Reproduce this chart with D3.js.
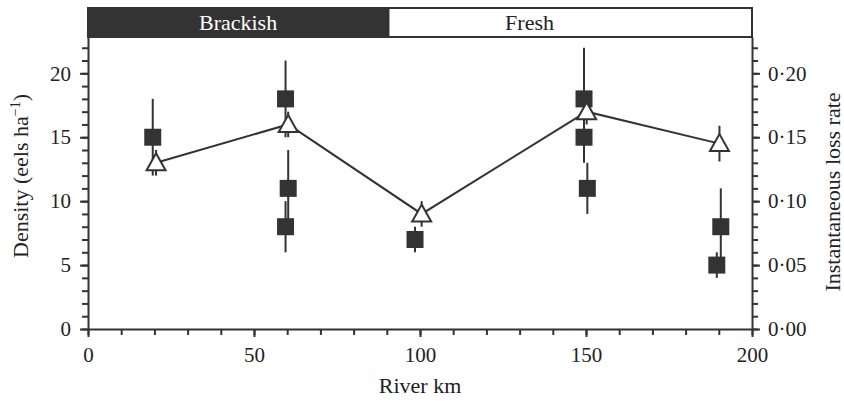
<!DOCTYPE html>
<html>
<head>
<meta charset="utf-8">
<script src="https://cdn.jsdelivr.net/npm/d3@7"></script>
<style>
  body { margin: 0; background: #fff; }
  svg { display: block; font-family: "Liberation Serif", "Times New Roman", serif; }
  .axis path, .axis line { stroke: #333; stroke-width: 2; }
  .axis text { font-size: 21px; fill: #222; font-family: "Liberation Serif", serif; }
</style>
</head>
<body>
<svg width="844" height="401"></svg>
<script>
// Density (squares) - river km, value and error bar ends
var densityKm = [19.5, 59.5, 60.3, 59.5, 98.5, 149.4, 149.4, 150.4, 190.6, 189.4],
  density = [15, 18, 11, 8, 7, 18, 15, 11, 8, 5],
  densityLo = [12, 15, 8, 6, 6, 14, 13, 9, 5, 4],
  densityHi = [18, 21, 14, 10, 8, 22, 17, 13, 11, 6];

// Instantaneous loss rate (triangles)
var lossKm = [20.5, 60.3, 100.5, 150.2, 190.2],
  loss = [0.13, 0.16, 0.09, 0.17, 0.145],
  lossLo = [0.12, 0.15, 0.08, 0.16, 0.131],
  lossHi = [0.14, 0.17, 0.10, 0.18, 0.159];

// Salinity zones along the river
var zoneNames = ["Brackish", "Fresh"],
  zoneStart = [0, 90.5],
  zoneEnd = [90.5, 200],
  zoneLabelKm = [45.2, 133];

var xMajor = [0, 50, 100, 150, 200],
  yMajor = [0, 5, 10, 15, 20],
  yRMajor = [0, 0.05, 0.10, 0.15, 0.20];

var dark = "#333";

var svg = d3.select("svg"),
  plotL = 88, plotR = 752, plotT = 37, plotB = 329;

var x = d3.scaleLinear().domain([0, 200]).range([plotL, plotR]);
var y = d3.scaleLinear().domain([0, 22.84]).range([plotB, plotT]);
var yR = d3.scaleLinear().domain([0, 0.2284]).range([plotB, plotT]);

var dotFmt = function(d) { return d3.format(".2f")(d).replace(".", "\u00b7"); };

// minor ticks
svg.append("g").attr("class", "axis")
  .attr("transform", "translate(0," + plotB + ")")
  .call(d3.axisBottom(x).tickValues(d3.range(0, 201, 10)).tickSize(6).tickFormat(""))
  .select(".domain").remove();
svg.append("g").attr("class", "axis")
  .attr("transform", "translate(" + plotL + ",0)")
  .call(d3.axisLeft(y).tickValues(d3.range(0, 23, 1)).tickSize(6).tickFormat(""))
  .select(".domain").remove();
svg.append("g").attr("class", "axis")
  .attr("transform", "translate(" + plotR + ",0)")
  .call(d3.axisRight(yR).tickValues(d3.range(0, 23, 1).map(function(d) { return d / 100; })).tickSize(6).tickFormat(""))
  .select(".domain").remove();

// major ticks with labels
svg.append("g").attr("class", "axis")
  .attr("transform", "translate(0," + plotB + ")")
  .call(d3.axisBottom(x).tickValues(xMajor).tickSize(8).tickPadding(10).tickSizeOuter(0));
svg.append("g").attr("class", "axis")
  .attr("transform", "translate(" + plotL + ",0)")
  .call(d3.axisLeft(y).tickValues(yMajor).tickSize(8).tickPadding(9).tickSizeOuter(0));
svg.append("g").attr("class", "axis")
  .attr("transform", "translate(" + plotR + ",0)")
  .call(d3.axisRight(yR).tickValues(yRMajor).tickSize(8).tickPadding(8).tickSizeOuter(0).tickFormat(dotFmt));

// axis titles
svg.append("text")
  .attr("x", (plotL + plotR) / 2)
  .attr("y", 393)
  .attr("text-anchor", "middle")
  .style("font-size", "22px").style("fill", "#222")
  .text("River km");

var yt = svg.append("text")
  .attr("transform", "translate(28,176) rotate(-90)")
  .attr("text-anchor", "middle")
  .style("font-size", "22px").style("fill", "#222");
yt.append("tspan").text("Density (eels ha");
yt.append("tspan").attr("dy", -8).style("font-size", "14px").text("\u22121");
yt.append("tspan").attr("dy", 8).text(")");

svg.append("text")
  .attr("transform", "translate(840,192) rotate(-90)")
  .attr("text-anchor", "middle")
  .style("font-size", "22px").style("fill", "#222")
  .text("Instantaneous loss rate");

// zone band
var zones = zoneNames.map(function(n, i) {
  return { name: n, x0: zoneStart[i], x1: zoneEnd[i], lab: zoneLabelKm[i], i: i };
});
var band = svg.append("g");
band.selectAll("rect")
  .data(zones)
  .enter().append("rect")
  .attr("x", function(d) { return x(d.x0); })
  .attr("width", function(d) { return x(d.x1) - x(d.x0); })
  .attr("y", 8)
  .attr("height", plotT - 8)
  .attr("fill", function(d) { return d.i === 0 ? dark : "#fff"; })
  .attr("stroke", dark)
  .attr("stroke-width", 2);
band.selectAll("text")
  .data(zones)
  .enter().append("text")
  .attr("x", function(d) { return x(d.lab); })
  .attr("y", 30)
  .attr("text-anchor", "middle")
  .style("font-size", "22px")
  .style("fill", function(d) { return d.i === 0 ? "#fff" : "#222"; })
  .text(function(d) { return d.name; });

// error bars
var plot = svg.append("g");
plot.selectAll("line.derr")
  .data(density)
  .enter().append("line")
  .attr("class", "derr")
  .attr("x1", function(d, i) { return x(densityKm[i]); })
  .attr("x2", function(d, i) { return x(densityKm[i]); })
  .attr("y1", function(d, i) { return y(densityLo[i]); })
  .attr("y2", function(d, i) { return y(densityHi[i]); })
  .attr("stroke", dark).attr("stroke-width", 2);

plot.selectAll("line.lerr")
  .data(loss)
  .enter().append("line")
  .attr("class", "lerr")
  .attr("x1", function(d, i) { return x(lossKm[i]); })
  .attr("x2", function(d, i) { return x(lossKm[i]); })
  .attr("y1", function(d, i) { return yR(lossLo[i]); })
  .attr("y2", function(d, i) { return yR(lossHi[i]); })
  .attr("stroke", dark).attr("stroke-width", 2);

// density squares
plot.selectAll("path.sq")
  .data(density)
  .enter().append("path")
  .attr("class", "sq")
  .attr("d", d3.symbol(d3.symbolSquare, 289))
  .attr("transform", function(d, i) { return "translate(" + x(densityKm[i]) + "," + y(d) + ")"; })
  .attr("fill", dark);

// loss line and triangles
var line = d3.line()
  .x(function(d, i) { return x(lossKm[i]); })
  .y(function(d) { return yR(d); });
plot.append("path")
  .datum(loss)
  .attr("d", line)
  .attr("fill", "none")
  .attr("stroke", dark)
  .attr("stroke-width", 2);

// open triangle centred on its box, like the original
var triPath = "M0,-9.5L9.5,7.5L-9.5,7.5Z";
plot.selectAll("path.tri")
  .data(loss)
  .enter().append("path")
  .attr("class", "tri")
  .attr("d", triPath)
  .attr("transform", function(d, i) { return "translate(" + x(lossKm[i]) + "," + yR(d) + ")"; })
  .attr("fill", "#fff")
  .attr("stroke", dark)
  .attr("stroke-width", 2)
  .attr("stroke-linejoin", "miter");
</script>
</body>
</html>
